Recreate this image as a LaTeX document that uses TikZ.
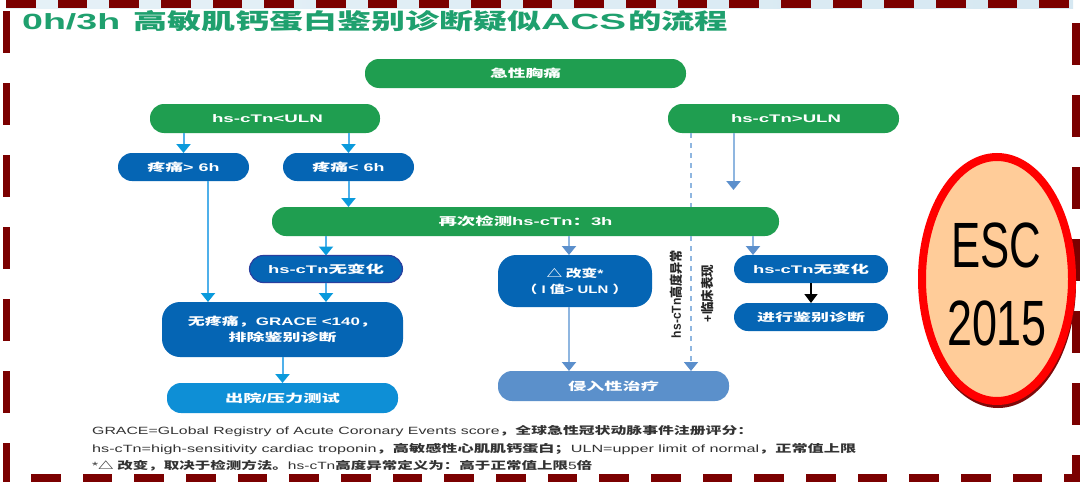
\documentclass[tikz,border=0pt]{standalone}
\usepackage{fontspec}
\setmainfont{Liberation Sans}
\newfontfamily\cjk{Noto Sans CJK SC}
\usetikzlibrary{arrows.meta,shapes.geometric}
\definecolor{maroonb}{HTML}{7B0000}
\definecolor{grn}{HTML}{1F9E50}
\definecolor{titlegrn}{HTML}{1FA06E}
\definecolor{blu}{HTML}{0565B4}
\definecolor{skyb}{HTML}{0E8FD6}
\definecolor{steel}{HTML}{5B90CB}
\definecolor{lineL}{HTML}{4FB0EA}
\definecolor{tipL}{HTML}{0A9ADC}
\definecolor{lineR}{HTML}{8FB6E0}
\definecolor{tipR}{HTML}{5B8FCC}
\definecolor{peach}{HTML}{FFCC99}
\definecolor{notegray}{HTML}{333333}
\definecolor{stripA}{HTML}{E6F1F7}
\definecolor{stripB}{HTML}{B9D8EA}
\definecolor{stripC}{HTML}{D6E8F2}
\definecolor{navyedge}{HTML}{2A3F9F}
\definecolor{shadowred}{HTML}{7E0A0A}
\newcommand\fit[2]{\resizebox{#1pt}{\height}{#2}}
\newcommand\zh[1]{{\cjk #1}}
\tikzset{
  flowbox/.style={inner sep=0pt,outer sep=0pt,text=white,align=center,anchor=center,
    font=\bfseries\fontsize{11}{15}\selectfont},
  pill/.style={flowbox,rounded corners=14pt},
  block/.style={flowbox,rounded corners=18pt},
  arrL/.style={draw=lineL,line width=2pt,-{Triangle[width=14pt,length=9pt,color=tipL,fill=tipL]}},
  arrR/.style={draw=lineR,line width=2pt,-{Triangle[width=14pt,length=9pt,color=tipR,fill=tipR]}},
  arrD/.style={draw=lineR,line width=1.6pt,dash pattern=on 5pt off 5pt},
  arrDtip/.style={arrD,-{Triangle[width=14pt,length=9pt,color=tipR,fill=tipR]}},
  arrK/.style={draw=black,line width=1.6pt,-{Triangle[width=13pt,length=9pt,color=black,fill=black]}},
  note/.style={anchor=west,inner sep=0pt,text=notegray,font=\fontsize{10.5}{12}\selectfont},
  vlabel/.style={rotate=90,inner sep=0pt,text=black!85,font=\bfseries\fontsize{13}{15}\selectfont},
  esctext/.style={inner sep=0pt,text=black,font=\fontsize{64}{70}\selectfont},
  borderdash/.style={fill=maroonb,draw=none}
}
\begin{document}
\begin{tikzpicture}[x=1pt,y=-1pt]
\useasboundingbox (0,0) rectangle (1080,482);
\fill[white] (0,0) rectangle (1080,482);
% top strip and dashed frame
\shade[left color=stripA,middle color=stripB,right color=stripC] (6,0) rectangle (1073,8);
\foreach \k in {0,...,20} {\fill[borderdash] ({6+51.67*\k},0) rectangle ++(29.5,8);}
\foreach \k in {0,...,19} {\fill[borderdash] ({31+51.67*\k},474) rectangle ++(29.5,8);}
\fill[borderdash] (1064,474) rectangle (1080,482);
\foreach \k in {0,...,6} {\fill[borderdash] (2.5,{11+72*\k}) rectangle ++(7,42);}
\foreach \k in {0,...,6} {\fill[borderdash] (1072,{23+72*\k}) rectangle ++(8,42);}
% title
\node[anchor=west,inner sep=0pt,text=titlegrn,font=\bfseries\fontsize{22}{24}\selectfont] (title) at (22,21)
  {\fit{98}{0h/3h}\hspace{13pt}\fit{408}{\zh{高敏肌钙蛋白鉴别诊断疑似}}\fit{85}{ACS}\hspace{2pt}\fit{100}{\zh{的流程}}};
% boxes
\node[pill,fill=grn,minimum width=321pt,minimum height=29pt] (chest) at (525.5,73.5) {\fit{71}{\zh{急性胸痛}}};
\node[pill,fill=grn,minimum width=230pt,minimum height=29pt] (low) at (265,118.5) {\hspace*{5pt}\fit{111}{hs-cTn<ULN}};
\node[pill,fill=grn,minimum width=231pt,minimum height=29pt] (high) at (783.5,118.5) {\hspace*{5pt}\fit{110}{hs-cTn>ULN}};
\node[pill,fill=blu,minimum width=131pt,minimum height=28pt] (pgt) at (183.5,167) {\fit{72}{\zh{疼痛}> 6h}};
\node[pill,fill=blu,minimum width=131pt,minimum height=28pt] (plt) at (348.5,167) {\fit{72}{\zh{疼痛}< 6h}};
\node[pill,fill=grn,minimum width=507pt,minimum height=29pt] (again) at (525.5,221.5) {\fit{174}{\zh{再次检测}hs-cTn\zh{：}3h}};
\node[pill,fill=blu,draw=navyedge,line width=1.2pt,minimum width=153pt,minimum height=27pt] (sameL) at (326,269) {\fit{116}{hs-cTn\zh{无变化}}};
\node[block,fill=blu,minimum width=154pt,minimum height=52pt] (delta) at (575,281) {\fit{57}{\zh{△ 改变}*}\\[1pt]\fit{105}{\zh{（} I \zh{值}> ULN \zh{）}}};
\node[pill,fill=blu,minimum width=154pt,minimum height=28pt] (sameR) at (811,269) {\fit{116}{hs-cTn\zh{无变化}}};
\node[pill,fill=blu,minimum width=154pt,minimum height=28pt] (dd) at (811,317) {\fit{108}{\zh{进行鉴别诊断}}};
\node[block,fill=blu,minimum width=241pt,minimum height=55pt] (nopain) at (282.5,329.5) {\fit{189}{\zh{无疼痛，}GRACE <140\zh{，}}\\[1pt]\fit{108}{\zh{排除鉴别诊断}}};
\node[pill,fill=skyb,minimum width=231pt,minimum height=30pt] (home) at (282.5,398) {\fit{115}{\zh{出院}/\zh{压力测试}}};
\node[pill,fill=steel,minimum width=231pt,minimum height=30pt] (invade) at (613.5,386) {\fit{91}{\zh{侵入性治疗}}};
% connector guide columns and free end
\coordinate (highend) at (733.5,190);
\coordinate (pgtx) at (208,167);
\coordinate (deltax) at (569,281);
\coordinate (samex) at (753,269);
\coordinate (dashx) at (691,200);
% connectors
\draw[arrL] (low.south -| pgt.north) -- (pgt.north);
\draw[arrL] (low.south -| plt.north) -- (plt.north);
\draw[arrL] (plt.south) -- (plt.south |- again.north);
\draw[arrL] (again.south -| sameL.north) -- (sameL.north);
\draw[arrL] (sameL.south) -- (sameL.south |- nopain.north);
\draw[arrL] (pgtx |- pgt.south) -- (pgtx |- nopain.north);
\draw[arrL] (nopain.south) -- (home.north);
\draw[arrR] (deltax |- again.south) -- (deltax |- delta.north);
\draw[arrR] (deltax |- delta.south) -- (deltax |- invade.north);
\draw[arrR] (samex |- again.south) -- (samex |- sameR.north);
\draw[arrK] (sameR.south) -- (dd.north);
\draw[arrR] (highend |- high.south) -- (highend);
\draw[arrD] (dashx |- high.south) -- (dashx |- again.north);
\draw[arrDtip] (dashx |- again.south) -- (dashx |- invade.north);
% rotated labels
\node[vlabel] (vl1) at (676,294) {\resizebox{88pt}{\height}{hs-cTn\zh{高度异常}}};
\node[vlabel] (vl2) at (707,293.5) {\resizebox{57pt}{\height}{+\zh{临床表现}}};
% footnotes
\node[note] (n1) at (92,431.5) {\fit{661}{GRACE=GLobal Registry of Acute Coronary Events score\zh{\bfseries ，全球急性冠状动脉事件注册评分：}}};
\node[note] (n2) at (92,449) {\fit{764}{hs-cTn=high-sensitivity cardiac troponin\zh{\bfseries ，高敏感性心肌肌钙蛋白；}ULN=upper limit of normal\zh{\bfseries ，正常值上限}}};
\node[note] (n3) at (92,466) {\fit{500}{*\zh{\bfseries △ 改变，取决于检测方法。}hs-cTn\zh{\bfseries 高度异常定义为：高于正常值上限}5\zh{\bfseries 倍}}};
% ESC badge
\fill[shadowred] (998,283) ellipse (78pt and 125pt);
\node[ellipse,fill=peach,draw=red,line width=8pt,minimum width=150pt,minimum height=244pt,inner sep=0pt] (esc) at (997,279) {};
\node[esctext] (esc1) at (996,245.5) {\resizebox{90pt}{\height}{ESC}};
\node[esctext] (esc2) at (997,323) {\resizebox{100pt}{\height}{2015}};
\end{tikzpicture}
\end{document}
